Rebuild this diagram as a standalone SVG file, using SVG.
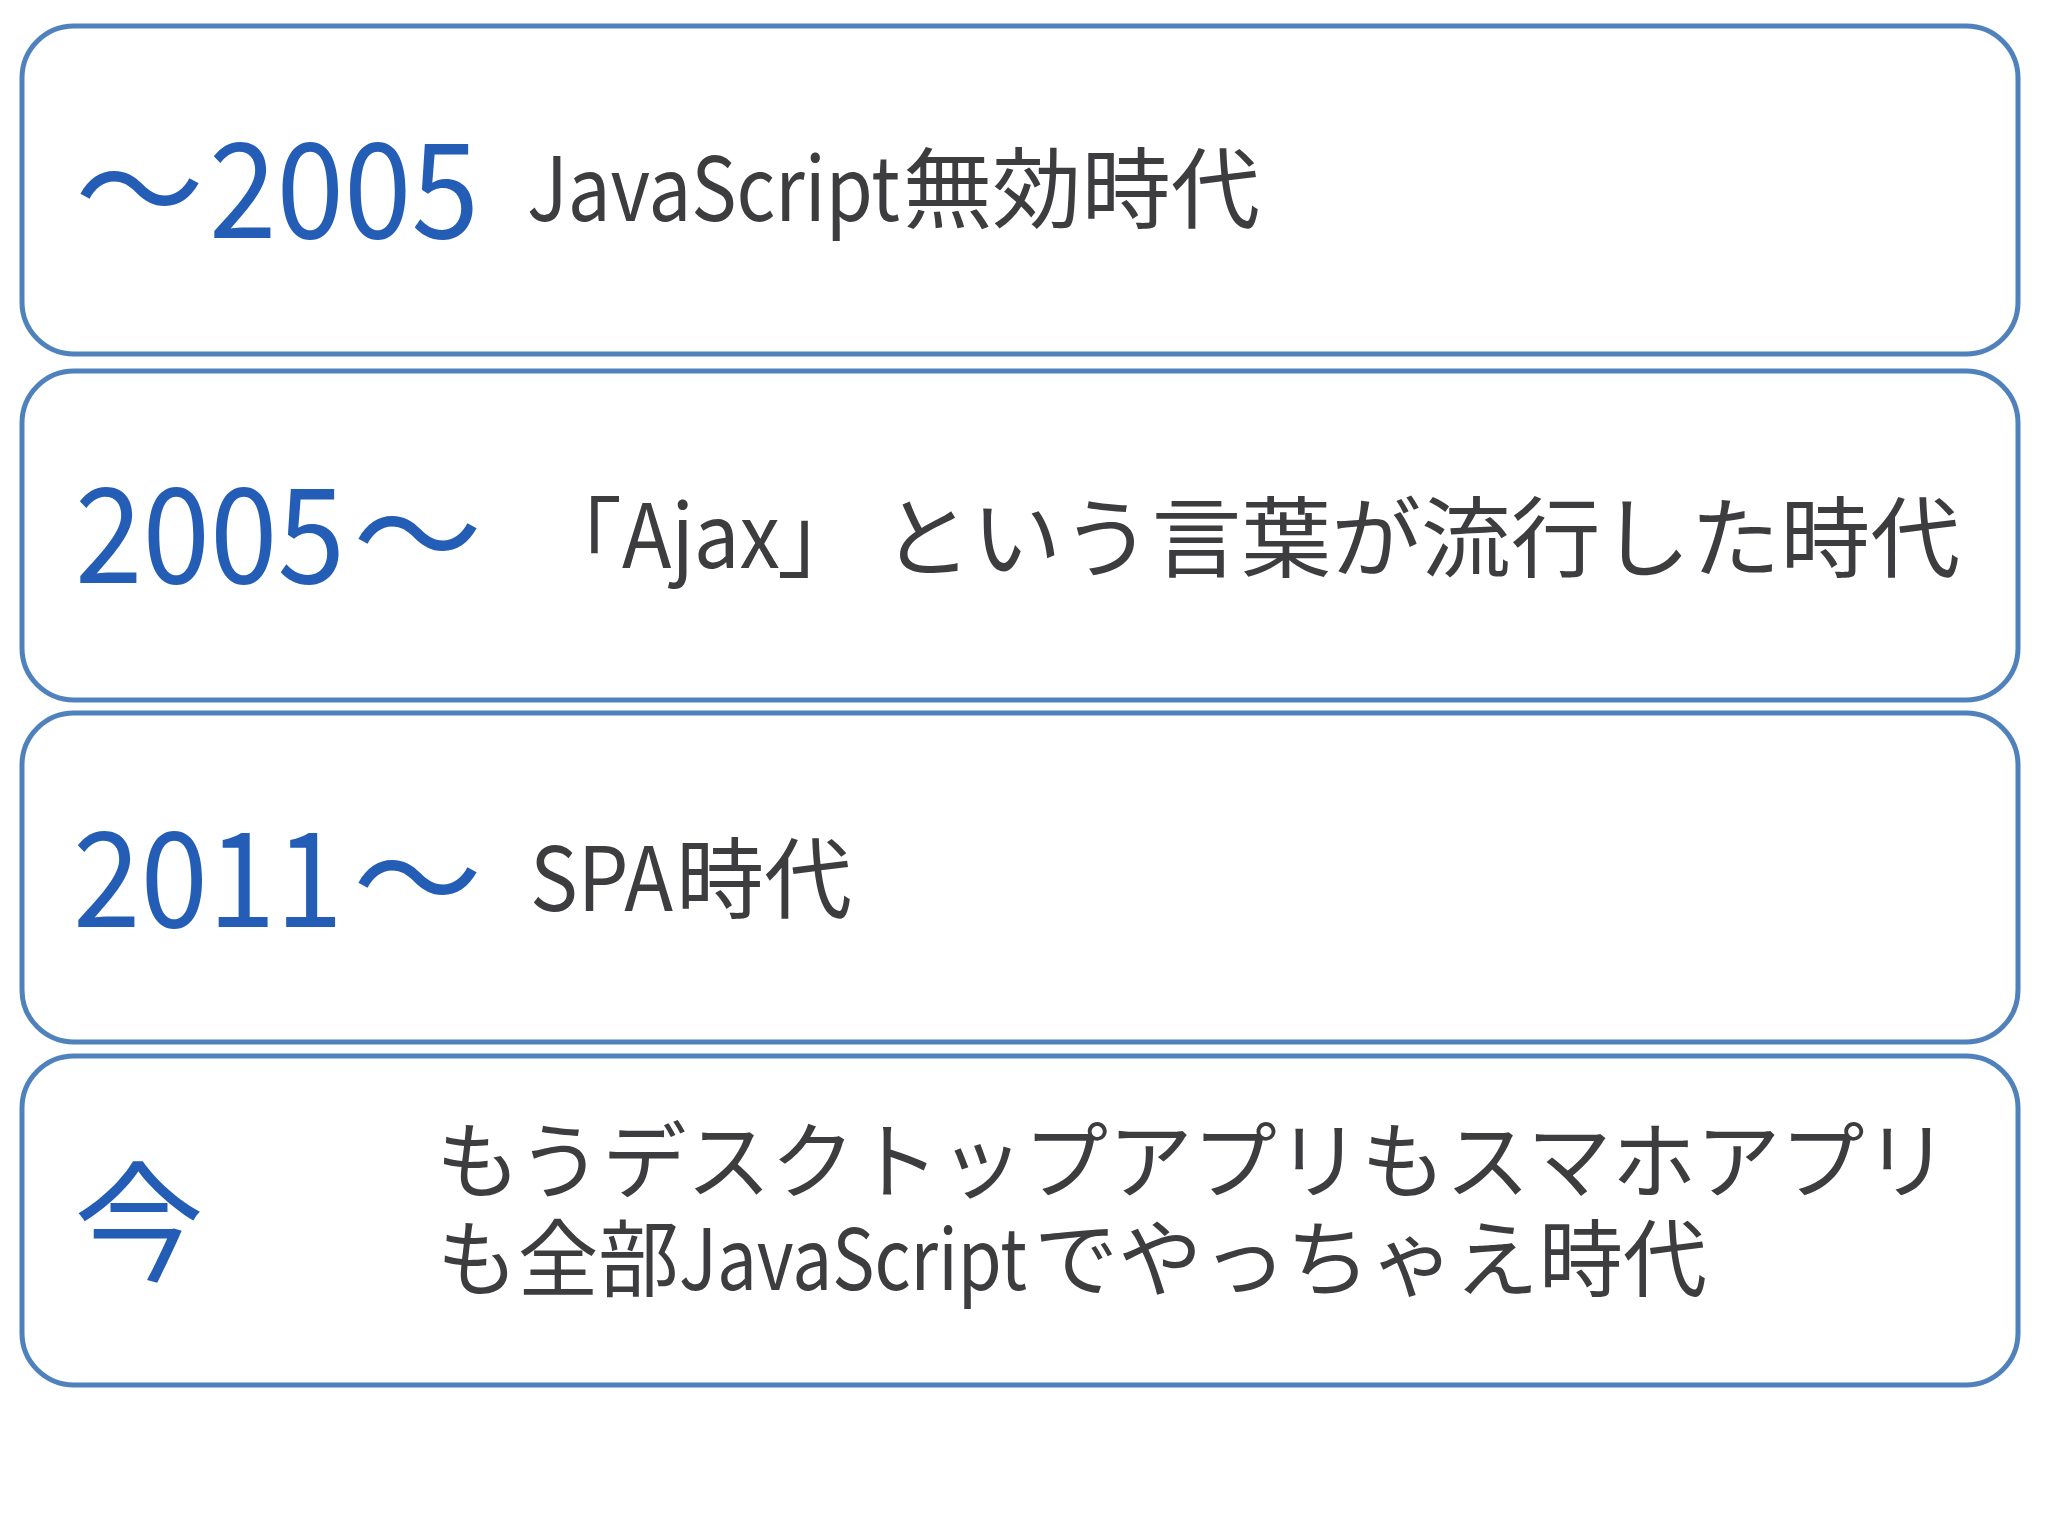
<svg xmlns="http://www.w3.org/2000/svg" width="2048" height="1536" viewBox="0 0 2048 1536">
<style>
.box{fill:#ffffff;stroke:#4f81bd;stroke-width:5}
.t{font-family:'Noto Sans CJK JP','Noto Sans',sans-serif}
.blue{fill:#245db6}
.dark{fill:#3d3c3f}
</style>
<rect x="0" y="0" width="2048" height="1536" fill="#ffffff"/>
<g id="node-2005-before">
<rect class="box" x="22" y="26" width="1996" height="328" rx="52" ry="52"/>
<text class="t blue" x="75" y="238" font-size="129">～</text>
<text class="t blue" x="209" y="238" font-size="132" textLength="270" lengthAdjust="spacingAndGlyphs">2005</text>
<text class="t dark" x="527" y="221" font-size="88" textLength="373" lengthAdjust="spacingAndGlyphs">JavaScript</text>
<text class="t dark" x="903" y="221" font-size="88" textLength="357" lengthAdjust="spacingAndGlyphs">無効時代</text>
</g>
<g id="node-2005-after">
<rect class="box" x="22" y="371" width="1996" height="329" rx="52" ry="52"/>
<text class="t blue" x="75" y="583" font-size="132" textLength="270" lengthAdjust="spacingAndGlyphs">2005</text>
<text class="t blue" x="353" y="583" font-size="129">～</text>
<text class="t dark" x="534" y="570" font-size="88">「</text>
<text class="t dark" x="622" y="568" font-size="88" textLength="158" lengthAdjust="spacingAndGlyphs">Ajax</text>
<text class="t dark" x="777" y="570" font-size="88">」</text>
<text class="t dark" x="882" y="570" font-size="88" textLength="1078" lengthAdjust="spacingAndGlyphs">という言葉が流行した時代</text>
</g>
<g id="node-2011">
<rect class="box" x="22" y="713" width="1996" height="329" rx="52" ry="52"/>
<text class="t blue" x="73" y="927" font-size="132" textLength="270" lengthAdjust="spacingAndGlyphs">2011</text>
<text class="t blue" x="353" y="927" font-size="129">～</text>
<text class="t dark" x="530" y="911" font-size="88" textLength="143" lengthAdjust="spacingAndGlyphs">SPA</text>
<text class="t dark" x="676" y="911" font-size="88" textLength="176" lengthAdjust="spacingAndGlyphs">時代</text>
</g>
<g id="node-now">
<rect class="box" x="22" y="1056" width="1996" height="329" rx="52" ry="52"/>
<text class="t blue" x="74" y="1271" font-size="130">今</text>
<text class="t dark" x="436" y="1192" font-size="84" textLength="1513" lengthAdjust="spacingAndGlyphs">もうデスクトップアプリもスマホアプリ</text>
<text class="t dark" x="437" y="1290" font-size="84" textLength="242" lengthAdjust="spacingAndGlyphs">も全部</text>
<text class="t dark" x="679" y="1290" font-size="84" textLength="348" lengthAdjust="spacingAndGlyphs">JavaScript</text>
<text class="t dark" x="1034" y="1290" font-size="84" textLength="673" lengthAdjust="spacingAndGlyphs">でやっちゃえ時代</text>
</g>
</svg>
